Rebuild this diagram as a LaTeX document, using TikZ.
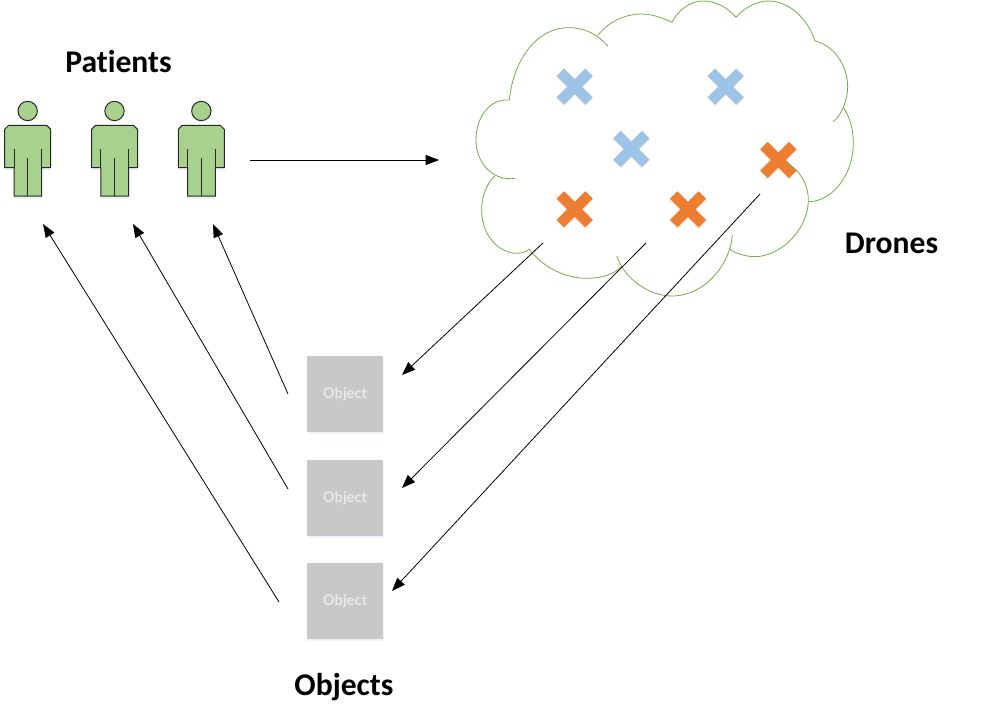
\documentclass[tikz,border=0pt]{standalone}
\usepackage{fontspec}
\setmainfont[Ligatures=NoCommon]{Carlito}
\newfontfamily\objfont{Lato}
\usetikzlibrary{arrows.meta}
\definecolor{pgreen}{HTML}{A9D18E}
\definecolor{cloudgreen}{HTML}{70AD47}
\definecolor{xblue}{HTML}{9DC3E6}
\definecolor{xorange}{HTML}{ED7D31}
\definecolor{objgrey}{HTML}{C8C8C8}
\definecolor{objtext}{HTML}{E9E9E9}
\definecolor{softblue}{HTML}{EFF4FB}
\definecolor{softorange}{HTML}{FCEDE3}
\tikzset{
  label text/.style={font=\fontsize{23.7}{28}\bfseries\selectfont, text=black, inner sep=0pt},
  object box/.style={fill=objgrey, minimum width=57.5pt, minimum height=57pt, inner sep=0pt,
    font=\objfont\fontsize{11}{13}\bfseries\selectfont, text=objtext},
  link/.style={draw=black, line width=0.6pt, -{Triangle[length=10pt,width=7.5pt]}},
  cloud line/.style={draw=cloudgreen, line width=0.6pt},
  person line/.style={draw=black!85, line width=0.75pt, line join=miter},
  pics/patient/.style={code={
    \fill[softblue] (14,260) -- (152,260) -- (152,392) -- (125,392) -- (125,477) -- (42,477) -- (42,392) -- (14,392) -- cycle;
    \draw[person line, fill=pgreen] (83,213) circle [radius=7.25pt];
    \draw[person line, fill=pgreen] (26,256) -- (140,256) -- (152,268) -- (152,383) -- (125,383) -- (125,468) -- (42,468) -- (42,383) -- (14,383) -- (14,268) -- cycle;
    \draw[person line] (42,327) -- (42,383) (125,327) -- (125,383) (83,355) -- (83,468);
  }},
  pics/xmark/.style={code={
    \draw[softorange, line width=9pt] (-44,-42) -- (44,46) (44,-42) -- (-44,46);
    \draw[#1, line width=7.9pt] (-43,-43) -- (43,43) (43,-43) -- (-43,43);
  }}
}
\begin{document}
\begin{tikzpicture}[x=.75pt,y=-.75pt]
\useasboundingbox (0,0) rectangle (1006,721);
% cloud
\begin{scope}[shift={(470,0)},x=.25pt,y=-.25pt]
  \pic at (314,260) {xmark=xblue};
  \pic at (767,260) {xmark=xblue};
  \pic at (484,447) {xmark=xblue};
  \pic at (925,480) {xmark=xorange};
  \pic at (314,628) {xmark=xorange};
  \pic at (654,628) {xmark=xorange};
  \draw[cloud line] (413,138) .. controls (375,95) and (335,83) .. (295,83) .. controls (200,83) and (130,180) .. (118,300);
  \draw[cloud line] (118,300) .. controls (60,295) and (18,350) .. (18,420) .. controls (18,490) and (70,545) .. (135,535);
  \draw[cloud line] (75,527) .. controls (50,550) and (35,590) .. (35,630) .. controls (35,710) and (90,760) .. (140,760) .. controls (155,760) and (170,755) .. (178,747);
  \draw[cloud line] (178,747) .. controls (220,805) and (290,835) .. (350,835) .. controls (390,835) and (430,825) .. (455,800);
  \draw[cloud line] (440,768) .. controls (465,840) and (540,888) .. (605,888) .. controls (700,888) and (780,800) .. (787,703);
  \draw[cloud line] (778,747) .. controls (800,762) and (830,770) .. (855,770) .. controls (930,770) and (1015,690) .. (1015,600) .. controls (1015,550) and (985,505) .. (950,490);
  \draw[cloud line] (1015,605) .. controls (1090,605) and (1150,520) .. (1150,430) .. controls (1150,390) and (1140,350) .. (1120,322);
  \draw[cloud line] (1090,365) .. controls (1115,345) and (1133,300) .. (1133,260) .. controls (1133,195) and (1090,135) .. (1035,123);
  \draw[cloud line] (1035,123) .. controls (1015,60) and (960,3) .. (895,3) .. controls (860,3) and (820,25) .. (798,52);
  \draw[cloud line] (798,52) .. controls (770,20) and (735,3) .. (700,3) .. controls (660,3) and (625,30) .. (606,67);
  \draw[cloud line] (606,67) .. controls (570,50) and (540,42) .. (515,42) .. controls (460,42) and (410,70) .. (383,107);
\end{scope}
% patients
\begin{scope}[shift={(0,40)},x=.25pt,y=-.25pt]
  \pic at (0,0) {patient};
  \pic at (260.5,0) {patient};
  \pic at (521,0) {patient};
\end{scope}
% objects
\fill[softblue] (306.5,359) rectangle (383.5,434);
\fill[softblue] (306.5,463) rectangle (383.5,538);
\fill[softblue] (306.5,566) rectangle (383.5,641);
\node[object box] (obj1) at (345,394) {\raisebox{-2pt}{Object}};
\node[object box] (obj2) at (345,498) {\raisebox{-2pt}{Object}};
\node[object box] (obj3) at (345,601) {\raisebox{-2pt}{Object}};
% labels
\node[label text] (patients) at (118.5,62) {Patients};
\node[label text] (drones) at (891.5,243) {Drones};
\node[label text] (objects) at (344,687.5) {Objects};
% connector ends
\coordinate (a1) at (250,160); \coordinate (a2) at (439,160);
\coordinate (b1) at (543,243); \coordinate (b2) at (402,375);
\coordinate (c1) at (646,243); \coordinate (c2) at (402,488);
\coordinate (d1) at (760,194); \coordinate (d2) at (392,591);
\coordinate (e1) at (288,394); \coordinate (e2) at (213,224);
\coordinate (f1) at (288,489); \coordinate (f2) at (133,224);
\coordinate (g1) at (279,602); \coordinate (g2) at (43,224);
\foreach \s/\t in {a1/a2,b1/b2,c1/c2,d1/d2,e1/e2,f1/f2,g1/g2}
  \draw[link] (\s) -- (\t);
\end{tikzpicture}
\end{document}
